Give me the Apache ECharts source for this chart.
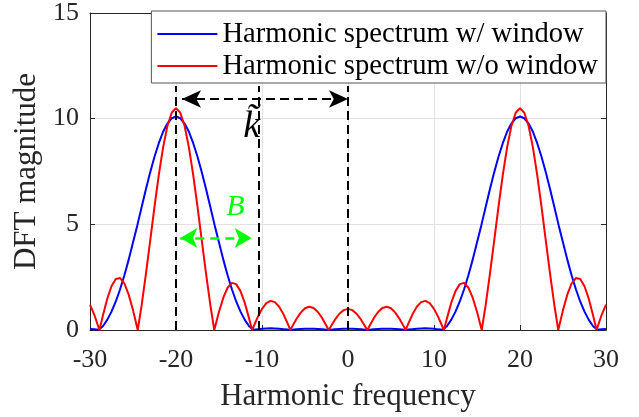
<!DOCTYPE html>
<html>
<head>
<meta charset="utf-8">
<script src="https://cdn.jsdelivr.net/npm/echarts@6/dist/echarts.min.js"></script>
<style>
  html, body { margin: 0; padding: 0; background: #fff; }
  #chart { width: 639px; height: 417px; }
</style>
</head>
<body>
<div id="chart"></div>
<script>
  // harmonic frequency axis, with window (blue)
  const blueFreq = [
    -30, -29.5, -29, -28.5, -28, -27.5, -27, -26.5, -26, -25.5, -25, -24.5, -24, -23.5, -23, -22.5,
    -22, -21.5, -21, -20.5, -20, -19.5, -19, -18.5, -18, -17.5, -17, -16.5, -16, -15.5, -15, -14.5,
    -14, -13.5, -13, -12.5, -12, -11.5, -11, -10.5, -10, -9.5, -9, -8.5, -8, -7.5, -7, -6.5,
    -6, -5.5, -5, -4.5, -4, -3.5, -3, -2.5, -2, -1.5, -1, -0.5, 0,
    0.5, 1, 1.5, 2, 2.5, 3, 3.5, 4, 4.5, 5, 5.5, 6, 6.5, 7, 7.5, 8,
    8.5, 9, 9.5, 10, 10.5, 11, 11.5, 12, 12.5, 13, 13.5, 14, 14.5, 15, 15.5, 16,
    16.5, 17, 17.5, 18, 18.5, 19, 19.5, 20, 20.5, 21, 21.5, 22, 22.5, 23, 23.5, 24,
    24.5, 25, 25.5, 26, 26.5, 27, 27.5, 28, 28.5, 29, 29.5, 30
  ]
  const blueMag = [
    0.05, 0.03, 0.01, 0.18, 0.48, 0.87, 1.35, 1.93, 2.59, 3.33, 4.14, 4.95, 5.81, 6.66, 7.46, 8.20,
    8.84, 9.38, 9.77, 10.02, 10.1, 10.02, 9.77, 9.38, 8.84, 8.20, 7.46, 6.66, 5.81, 4.95, 4.14, 3.33,
    2.59, 1.93, 1.35, 0.87, 0.48, 0.18, 0.01, 0.03, 0.06, 0.07, 0.08, 0.07, 0.06, 0.04, 0.02, 0.01,
    0.03, 0.05, 0.06, 0.06, 0.06, 0.05, 0.03, 0.01, 0.01, 0.03, 0.05, 0.06, 0.06,
    0.06, 0.05, 0.03, 0.01, 0.01, 0.03, 0.05, 0.06, 0.06, 0.06, 0.05, 0.03, 0.01, 0.02, 0.04, 0.06,
    0.07, 0.08, 0.07, 0.06, 0.03, 0.01, 0.18, 0.48, 0.87, 1.35, 1.93, 2.59, 3.33, 4.14, 4.95, 5.81,
    6.66, 7.46, 8.20, 8.84, 9.38, 9.77, 10.02, 10.1, 10.02, 9.77, 9.38, 8.84, 8.20, 7.46, 6.66, 5.81,
    4.95, 4.14, 3.33, 2.59, 1.93, 1.35, 0.87, 0.48, 0.18, 0.01, 0.03, 0.05
  ]

  // without window (red)
  const redFreq = [
    -30, -29.5, -29, -28.9, -28.5, -28, -27.5, -27, -26.5, -26, -25.5, -25, -24.45, -24, -23.5, -23,
    -22.5, -22, -21.5, -21, -20.5, -20, -19.5, -19, -18.5, -18, -17.5, -17, -16.5, -16, -15.55, -15,
    -14.5, -14, -13.5, -13, -12.5, -12, -11.5, -11.15, -10.5, -10, -9.5, -9, -8.5, -8, -7.5, -7,
    -6.7, -6.5, -6, -5.5, -5, -4.5, -4, -3.5, -3, -2.5, -2.25, -2, -1.5, -1, -0.5, 0,
    0.5, 1, 1.5, 2, 2.25, 2.5, 3, 3.5, 4, 4.5, 5, 5.5, 6, 6.5, 6.7, 7,
    7.5, 8, 8.5, 9, 9.5, 10, 10.5, 11.15, 11.5, 12, 12.5, 13, 13.5, 14, 14.5, 15,
    15.55, 16, 16.5, 17, 17.5, 18, 18.5, 19, 19.5, 20, 20.5, 21, 21.5, 22, 22.5, 23,
    23.5, 24, 24.45, 25, 25.5, 26, 26.5, 27, 27.5, 28, 28.5, 28.9, 29, 29.5, 30
  ]
  const redMag = [
    1.2, 0.72, 0.12, 0, 0.69, 1.47, 2.07, 2.41, 2.46, 2.20, 1.67, 0.94, 0, 1.16, 2.64, 4.23,
    5.84, 7.34, 8.64, 9.65, 10.28, 10.5, 10.28, 9.65, 8.64, 7.34, 5.84, 4.23, 2.64, 1.16, 0, 0.86,
    1.53, 2.00, 2.23, 2.17, 1.84, 1.28, 0.55, 0, 0.61, 1.00, 1.27, 1.38, 1.32, 1.10, 0.74, 0.29,
    0, 0.16, 0.52, 0.82, 1.03, 1.10, 1.04, 0.85, 0.56, 0.19, 0, 0.17, 0.50, 0.77, 0.94, 1.0,
    0.94, 0.77, 0.50, 0.17, 0, 0.19, 0.56, 0.85, 1.04, 1.10, 1.03, 0.82, 0.52, 0.16, 0, 0.29,
    0.74, 1.10, 1.32, 1.38, 1.27, 1.00, 0.61, 0, 0.55, 1.28, 1.84, 2.17, 2.23, 2.00, 1.53, 0.86,
    0, 1.16, 2.64, 4.23, 5.84, 7.34, 8.64, 9.65, 10.28, 10.5, 10.28, 9.65, 8.64, 7.34, 5.84, 4.23,
    2.64, 1.16, 0, 0.94, 1.67, 2.20, 2.46, 2.41, 2.07, 1.47, 0.69, 0, 0.12, 0.72, 1.2
  ]

  const seriesNames = ['Harmonic spectrum w/ window', 'Harmonic spectrum w/o window']
  const xTicks = [-30, 30, 10]
  const yTicks = [0, 15, 5]

  const serif = 'Liberation Serif'
  const ink = '#262626'

  const zip = (xs, ys) => xs.map((x, i) => [x, ys[i]])

  let myChart = echarts.init(document.getElementById('chart'))

  const blackDash = { color: '#000', type: [9, 5], width: 2 }
  const greenDash = { color: '#00ff00', type: [9, 6], width: 2.5 }

  // box axes: MATLAB draws ticks inside on all four sides
  const boxAxis = (pos, ticks, withLabel) => ({
    type: 'value',
    min: ticks[0],
    max: ticks[1],
    interval: ticks[2],
    position: pos,
    axisLine: { show: true, onZero: false, lineStyle: { color: ink } },
    axisTick: { show: true, inside: true, length: 5, lineStyle: { color: ink } },
    axisLabel: { show: withLabel, fontFamily: serif, fontSize: 26, color: ink },
    splitLine: { show: withLabel, lineStyle: { color: '#e2e2e2' } }
  })

  let xBottom = boxAxis('bottom', xTicks, true)
  xBottom.axisLabel.margin = 17
  xBottom.name = 'Harmonic frequency'
  xBottom.nameLocation = 'middle'
  xBottom.nameGap = 51
  xBottom.nameTextStyle = { fontFamily: serif, fontSize: 31, color: ink }

  let yLeft = boxAxis('left', yTicks, true)
  yLeft.axisLabel.margin = 11
  yLeft.name = 'DFT magnitude'
  yLeft.nameLocation = 'middle'
  yLeft.nameGap = 48
  yLeft.nameTextStyle = { fontFamily: serif, fontSize: 31, color: ink }

  myChart.setOption({
    animation: false,
    grid: {
      left: 90,
      right: 33,
      top: 11,
      bottom: 85
    },
    legend: {
      data: seriesNames,
      orient: 'vertical',
      right: 33,
      top: 11,
      icon: 'rect',
      itemWidth: 60,
      itemHeight: 2,
      itemGap: 2,
      padding: [8, 8, 2, 6],
      backgroundColor: '#fff',
      borderColor: '#555',
      borderWidth: 1,
      borderRadius: 0,
      textStyle: {
        fontFamily: serif,
        fontSize: 28.6,
        lineHeight: 30,
        color: '#000'
      }
    },
    xAxis: [xBottom, boxAxis('top', xTicks, false)],
    yAxis: [yLeft, boxAxis('right', yTicks, false)],
    series: [
      {
        name: seriesNames[0],
        type: 'line',
        data: zip(blueFreq, blueMag),
        symbol: 'none',
        lineStyle: { color: '#0000ff', width: 2 },
        itemStyle: { color: '#0000ff' }
      },
      {
        name: seriesNames[1],
        type: 'line',
        data: zip(redFreq, redMag),
        symbol: 'none',
        lineStyle: { color: '#ff0000', width: 2 },
        itemStyle: { color: '#ff0000' }
      },
      {
        name: 'annotations',
        type: 'line',
        data: [[-30, 0]],
        symbol: 'none',
        lineStyle: { width: 0 },
        silent: true,
        z: 5,
        markLine: {
          silent: true,
          animation: false,
          label: { show: false },
          emphasis: { disabled: true },
          data: [
            [
              { coord: [-20, 0], symbol: 'none', lineStyle: blackDash },
              { coord: [-20, 11.55], symbol: 'none' }
            ],
            [
              { coord: [-10.4, 0], symbol: 'none', lineStyle: blackDash },
              { coord: [-10.4, 11.55], symbol: 'none' }
            ],
            [
              { coord: [0, 0], symbol: 'none', lineStyle: blackDash },
              { coord: [0, 11.55], symbol: 'none' }
            ],
            [
              { coord: [-19.3, 10.93], symbol: 'arrow', symbolSize: [13, 19], lineStyle: blackDash, itemStyle: { color: '#000' } },
              { coord: [0, 10.93], symbol: 'arrow', symbolSize: [13, 19], itemStyle: { color: '#000' } }
            ],
            [
              { coord: [-19.5, 4.35], symbol: 'arrow', symbolSize: [15, 17], lineStyle: greenDash, itemStyle: { color: '#00ff00' } },
              { coord: [-11.2, 4.35], symbol: 'arrow', symbolSize: [15, 17], itemStyle: { color: '#00ff00' } }
            ]
          ]
        },
        markPoint: {
          silent: true,
          symbol: 'circle',
          symbolSize: 0,
          animation: false,
          data: [
            {
              coord: [-11.2, 9.6],
              label: {
                show: true,
                position: 'inside',
                formatter: 'k\u0303',
                fontFamily: serif,
                fontStyle: 'italic',
                fontSize: 38,
                color: '#000'
              }
            },
            {
              coord: [-13.1, 5.8],
              label: {
                show: true,
                position: 'inside',
                formatter: 'B',
                fontFamily: serif,
                fontStyle: 'italic',
                fontSize: 30,
                color: '#00ff00'
              }
            }
          ]
        }
      }
    ]
  })

  window.addEventListener('resize', function () {
    myChart.resize()
  })
</script>
</body>
</html>
